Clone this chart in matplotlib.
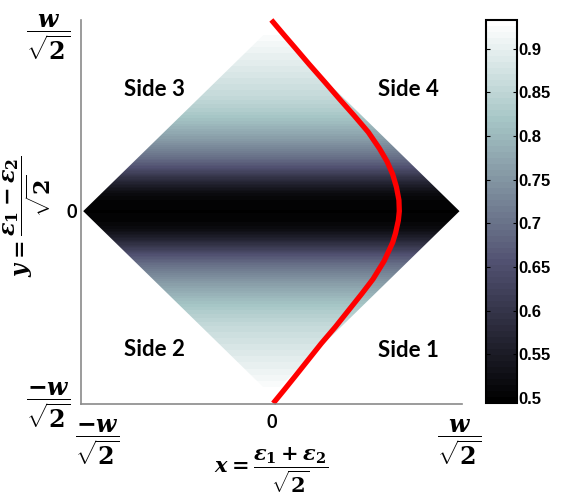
import matplotlib

matplotlib.use("Agg")
import matplotlib.pyplot as plt
import matplotlib.transforms as mtransforms
import numpy as np
from matplotlib.patches import Polygon

# colour value along y (symmetric about y=0), y in units of w/sqrt(2)
PROFILE_Y = [0.0, 0.05, 0.1, 0.15, 0.2, 0.25, 0.3, 0.35, 0.4, 0.45, 0.5,
             0.55, 0.6, 0.65, 0.7, 0.75, 0.8, 0.85, 0.9, 0.95, 1.0]
PROFILE_V = [0.50, 0.505, 0.52, 0.56, 0.61, 0.66, 0.70, 0.73, 0.76, 0.785, 0.81,
             0.83, 0.845, 0.86, 0.87, 0.88, 0.89, 0.90, 0.91, 0.92, 0.93]

# red boundary curve
CURVE_X = [0.0, 0.066, 0.125, 0.20, 0.286, 0.362, 0.44, 0.515, 0.575, 0.615, 0.645,
           0.665, 0.678, 0.68, 0.675, 0.66, 0.645, 0.60, 0.54, 0.48, 0.41,
           0.34, 0.265, 0.195, 0.125, 0.07, 0.01]
CURVE_Y = [1.04, 0.96, 0.89, 0.80, 0.70, 0.61, 0.52, 0.43, 0.34, 0.27, 0.20,
           0.13, 0.06, 0.0, -0.05, -0.12, -0.17, -0.27, -0.37, -0.45, -0.54,
           -0.63, -0.72, -0.81, -0.90, -0.97, -1.045]

SIDES = [("Side 3", -0.62, 0.66), ("Side 4", 0.73, 0.66),
         ("Side 2", -0.62, -0.75), ("Side 1", 0.73, -0.76)]
CBAR_TICKS = [0.5, 0.55, 0.6, 0.65, 0.7, 0.75, 0.8, 0.85, 0.9]
VMIN, VMAX = 0.494, 0.933

plt.rcParams["mathtext.fontset"] = "custom"
plt.rcParams["mathtext.it"] = "DejaVu Serif:italic:bold"
plt.rcParams["mathtext.rm"] = "DejaVu Serif:bold"
plt.rcParams["mathtext.bf"] = "DejaVu Serif:bold"

FRAC_POS = r"$\dfrac{w}{\sqrt{2}}$"
FRAC_NEG = r"$\dfrac{-w}{\sqrt{2}}$"

fig = plt.figure(figsize=(5.62, 4.99), dpi=100)
ax = fig.add_axes([0.144, 0.190, 0.678, 0.770])
cax = fig.add_axes([0.865, 0.192, 0.055, 0.768])

# full symmetric profile from -1 to 1
vals = np.array(PROFILE_V[::-1] + PROFILE_V[1:])
img = np.repeat(vals[:, None], 2, axis=1)
cmap = plt.get_cmap("bone", 64)
im = ax.imshow(img, extent=(-1, 1, -1, 1), origin="lower", cmap=cmap,
               vmin=VMIN, vmax=VMAX, interpolation="bilinear", aspect="auto")
diamond = Polygon([(-1, 0), (0, 1), (1, 0), (0, -1)], closed=True,
                  transform=ax.transData, facecolor="none", edgecolor="none")
ax.add_patch(diamond)
im.set_clip_path(diamond)

ax.plot(CURVE_X, CURVE_Y, color="red", lw=3.8, solid_capstyle="butt",
        solid_joinstyle="round", clip_on=False)

for label, x, y in SIDES:
    ax.text(x, y, label, ha="center", va="center", fontsize=16,
            fontweight="bold", family="Lato")

ax.set_xlim(-1.012, 1.013)
ax.set_ylim(-1.05, 1.04)
for s in ("top", "right"):
    ax.spines[s].set_visible(False)
for s in ("left", "bottom"):
    ax.spines[s].set_color("#8a8a8a")
    ax.spines[s].set_linewidth(1.2)

ax.set_xticks([-1, 0, 1])
ax.set_xticklabels([FRAC_NEG, "0", FRAC_POS])
ax.set_yticks([-1, 0, 1])
ax.set_yticklabels([FRAC_NEG, "0", FRAC_POS])
ax.tick_params(length=0, labelsize=17)
ax.tick_params(axis="x", pad=9)
ax.tick_params(axis="y", pad=3)
for lab in ax.get_xticklabels() + ax.get_yticklabels():
    if lab.get_text() == "0":
        lab.set_fontfamily("Lato")
        lab.set_fontweight("bold")
        lab.set_fontsize(13)
# shift fraction labels the way the figure has them
xl = ax.get_xticklabels()
xl[0].set_transform(xl[0].get_transform() +
                    mtransforms.ScaledTranslation(14 / 100, 0, fig.dpi_scale_trans))
xl[1].set_transform(xl[1].get_transform() +
                    mtransforms.ScaledTranslation(0, 3 / 100, fig.dpi_scale_trans))
yl = ax.get_yticklabels()
for lab in (yl[0], yl[2]):
    lab.set_va("center")
    lab.set_transform(lab.get_transform() +
                      mtransforms.ScaledTranslation(-6 / 100, -10 / 100, fig.dpi_scale_trans))

ax.set_xlabel(r"$x = \dfrac{\varepsilon_1 + \varepsilon_2}{\sqrt{2}}$", fontsize=15)
ax.xaxis.set_label_coords(0.5, -0.172)
ax.xaxis.label.set_va("center")
ax.set_ylabel(r"$y = \dfrac{\varepsilon_1 - \varepsilon_2}{\sqrt{2}}$", fontsize=16)
ax.yaxis.set_label_coords(-0.142, 0.49)
ax.yaxis.label.set_va("center")

cb = fig.colorbar(im, cax=cax, ticks=CBAR_TICKS)
cb.ax.set_yticklabels(["0.5", "0.55", "0.6", "0.65", "0.7", "0.75", "0.8", "0.85", "0.9"])
cb.outline.set_linewidth(1.5)
cb.ax.tick_params(direction="in", left=True, right=True, length=3, width=0.8,
                  labelsize=12, pad=1)
for lab in cb.ax.get_yticklabels():
    lab.set_fontweight("bold")
    lab.set_fontfamily("Liberation Sans")

fig.savefig("out.png", dpi=100)
